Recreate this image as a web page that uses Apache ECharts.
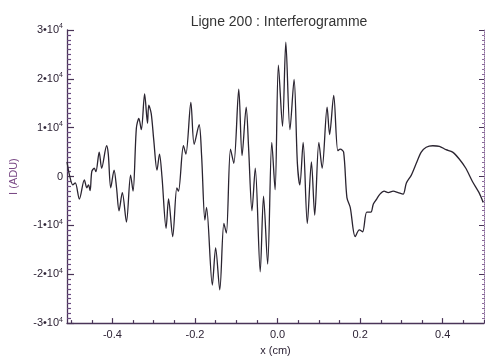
<!DOCTYPE html>
<html>
<head>
<meta charset="utf-8">
<script src="https://cdn.jsdelivr.net/npm/echarts@6/dist/echarts.min.js"></script>
<style>
html,body{margin:0;padding:0;background:#fff;}
#c{width:485px;height:361px;}
</style>
</head>
<body>
<div id="c"></div>
<script>
const titleText = 'Ligne 200 : Interferogramme';
const xName = 'x (cm)';
const yName = 'I (ADU)';

const xPos = [-0.510,-0.504,-0.496,-0.490,-0.480,-0.468,-0.462,-0.458,-0.454,-0.450,-0.444,-0.440,-0.432,-0.426,-0.414,-0.410,-0.404,-0.396,-0.390,-0.384,-0.376,-0.366,-0.356,-0.350,-0.342,-0.336,-0.330,-0.322,-0.315,-0.312,-0.306,-0.300,-0.292,-0.286,-0.280,-0.270,-0.264,-0.254,-0.244,-0.240,-0.228,-0.222,-0.210,-0.202,-0.190,-0.184,-0.176,-0.172,-0.158,-0.150,-0.140,-0.130,-0.124,-0.114,-0.106,-0.094,-0.086,-0.076,-0.070,-0.062,-0.054,-0.042,-0.034,-0.024,-0.014,-0.006,0.002,0.012,0.020,0.030,0.040,0.048,0.054,0.062,0.072,0.082,0.090,0.100,0.108,0.120,0.126,0.136,0.146,0.152,0.160,0.168,0.176,0.188,0.198,0.206,0.216,0.226,0.232,0.240,0.248,0.258,0.268,0.280,0.292,0.304,0.312,0.324,0.336,0.348,0.360,0.376,0.392,0.408,0.424,0.440,0.456,0.472,0.488,0.498];

const intensity = [3000,300,-1700,-1300,-4600,-700,-2300,-1700,-2900,1000,1700,1000,5000,1700,6300,4600,-2300,1300,-2300,-7000,-3300,-9300,300,-3000,9900,11900,9600,16900,10900,14600,12900,7600,1300,4600,0,-10600,-4600,-12300,-2300,-3000,6300,4600,15200,6600,10600,4300,-8900,-6300,-22200,-14600,-23200,-9600,-11600,5600,2700,17900,4300,14200,5600,-7000,1700,-19500,-4000,-17900,7000,-2700,22800,10300,27500,9600,19900,2700,-1700,7000,-9600,3000,-7900,7000,1700,14200,8600,16600,5300,5600,5000,-4300,-6300,-12300,-10900,-11300,-7300,-7300,-5600,-4600,-3600,-3000,-3300,-3000,-3300,-3600,-1300,300,2700,5000,6000,6300,6200,5500,5000,3600,1700,-1000,-3300,-5300];

const xMajorTicks = [-0.4,-0.2,0.0,0.2,0.4];
const xMinorTicks = [-0.5,-0.45,-0.35,-0.3,-0.25,-0.15,-0.1,-0.05,0.05,0.1,0.15,0.25,0.3,0.35,0.45,0.5];
const yMin = -30000, yMax = 30000, yStep = 10000;
const yMinorTicks = [-29000,-28000,-27000,-26000,-25000,-24000,-23000,-22000,-21000,
  -19000,-18000,-17000,-16000,-15000,-14000,-13000,-12000,-11000,
  -9000,-8000,-7000,-6000,-5000,-4000,-3000,-2000,-1000,
  1000,2000,3000,4000,5000,6000,7000,8000,9000,
  11000,12000,13000,14000,15000,16000,17000,18000,19000,
  21000,22000,23000,24000,25000,26000,27000,28000,29000];

const axisCol = '#4a3458';
const minorCol = '#6a4a80';
const textCol = '#2e2436';
const FONT = 'Liberation Sans';

const chart = echarts.init(document.getElementById('c'));
const data = xPos.map((x,i)=>[x, intensity[i]]);

function yFmt(v){
  if (v === 0) return '{n|0}';
  return '{n|' + (v/10000) + '•10}{s|4}';
}

chart.setOption({
  animation:false,
  backgroundColor:'#fff',
  title:{text:titleText,left:274,textAlign:'center',top:10,
    textStyle:{fontFamily:FONT,fontSize:14,fontWeight:'normal',color:'#333'}},
  grid:{left:64,right:1,top:30,bottom:29,containLabel:false},
  xAxis:[{
    type:'value',min:-0.51,max:0.5,position:'bottom',
    axisLine:{show:true,onZero:false,lineStyle:{color:axisCol,width:1.3}},
    axisTick:{show:true,inside:true,length:5,customValues:xMajorTicks,lineStyle:{color:axisCol,width:1.2}},
    axisLabel:{customValues:xMajorTicks,formatter:v=>v.toFixed(1),fontFamily:FONT,fontSize:11,color:textCol,margin:6},
    splitLine:{show:false},
    name:xName,nameLocation:'middle',nameGap:21,
    nameTextStyle:{fontFamily:FONT,fontSize:11,color:textCol}
  },{
    type:'value',min:-0.51,max:0.5,position:'bottom',
    axisLine:{show:false,onZero:false},
    axisTick:{show:true,inside:true,length:3,customValues:xMinorTicks,lineStyle:{color:axisCol,width:1.2}},
    axisLabel:{show:false},splitLine:{show:false}
  }],
  yAxis:[{
    type:'value',min:yMin,max:yMax,interval:yStep,position:'left',
    axisLine:{show:true,onZero:false,lineStyle:{color:axisCol,width:1.3}},
    axisTick:{show:true,inside:true,length:7,lineStyle:{color:axisCol,width:1.2}},
    axisLabel:{formatter:yFmt,margin:4,
      rich:{n:{fontFamily:FONT,fontSize:11,color:textCol},
            s:{fontFamily:FONT,fontSize:7,color:textCol,padding:[0,0,7,0]}}},
    splitLine:{show:false},
    name:yName,nameLocation:'middle',nameGap:48,
    nameTextStyle:{fontFamily:FONT,fontSize:11,color:'#7a4a86'}
  },{
    type:'value',min:yMin,max:yMax,position:'left',
    axisLine:{show:false,onZero:false},
    axisTick:{show:true,inside:true,length:4,customValues:yMinorTicks,lineStyle:{color:minorCol,width:1.2}},
    axisLabel:{show:false},splitLine:{show:false}
  },{
    type:'value',min:yMin,max:yMax,interval:yStep,position:'right',
    axisLine:{show:true,onZero:false,lineStyle:{color:'#8a6a9a',width:1,type:'dotted'}},
    axisTick:{show:true,inside:true,length:5,lineStyle:{color:axisCol}},
    axisLabel:{show:false},splitLine:{show:false}
  },{
    type:'value',min:yMin,max:yMax,position:'right',
    axisLine:{show:false,onZero:false},
    axisTick:{show:true,inside:true,length:2,customValues:yMinorTicks,lineStyle:{color:'#8a6a9a'}},
    axisLabel:{show:false},splitLine:{show:false}
  }],
  series:[{
    type:'line',data:data,xAxisIndex:0,yAxisIndex:0,
    showSymbol:false,smooth:0.3,
    lineStyle:{color:'#2a2430',width:1.3}
  }]
});
</script>
</body>
</html>
